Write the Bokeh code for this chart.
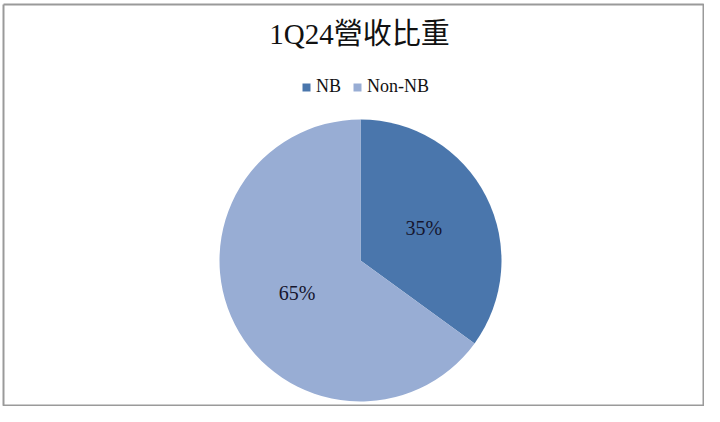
import math
from bokeh.plotting import figure
from bokeh.models import Range1d, Label, Legend, LegendItem, ColumnDataSource
from bokeh.embed import file_html
from bokeh.resources import INLINE

title_text = "1Q24營收比重"
categories = ["NB", "Non-NB"]
shares = [35, 65]
colors = ["#4A76AC", "#98ADD4"]

W, H = 704, 406
p = figure(width=W, height=H, output_backend="svg", toolbar_location=None,
           x_range=Range1d(0, W), y_range=Range1d(0, H), min_border=0)
p.axis.visible = False
p.grid.visible = False
p.outline_line_color = None
p.background_fill_color = "white"

# chart-area frame
p.line(x=[3, 3, W - 1, W - 1, 3], y=[H - 4, 1, 1, H - 4, H - 4],
       line_color="#9A9A9A", line_width=2)

cx, cy, r = 360, H - 260, 141
total = sum(shares)
start = math.pi / 2
starts, ends, mids = [], [], []
for s in shares:
    a = s / total * 2 * math.pi
    starts.append(start)
    ends.append(start - a)
    mids.append(start - a / 2)
    start -= a

FONT = "'Liberation Serif', 'Noto Sans CJK TC'"
renderers = []
for i, cat in enumerate(categories):
    src = ColumnDataSource(dict(x=[cx], y=[cy], s=[starts[i]], e=[ends[i]]))
    rr = p.wedge(x="x", y="y", radius=r, start_angle="s", end_angle="e",
                 direction="clock", fill_color=colors[i], line_color=None, source=src)
    renderers.append(rr)
    lx = cx + 0.505 * r * math.cos(mids[i])
    ly = cy + 0.505 * r * math.sin(mids[i])
    p.add_layout(Label(x=lx, y=ly, text=f"{shares[i]}%", text_align="center",
                       text_baseline="middle", text_font=FONT, text_font_size="20px",
                       text_color="#15152E"))

p.add_layout(Label(x=359, y=H - 33, text=title_text, text_align="center",
                   text_baseline="middle", text_font=FONT, text_font_size="29px",
                   text_color="#111111"))

legend = Legend(items=[LegendItem(label=c, renderers=[renderers[i]]) for i, c in enumerate(categories)],
                orientation="horizontal", location=(301, H - 97),
                label_text_font=FONT, label_text_font_size="18px", label_text_color="#111111",
                glyph_width=10, glyph_height=10, label_standoff=5, spacing=11,
                padding=0, margin=0, border_line_color=None, background_fill_alpha=0)
p.add_layout(legend)

open("out.html", "w").write(file_html(p, INLINE))
